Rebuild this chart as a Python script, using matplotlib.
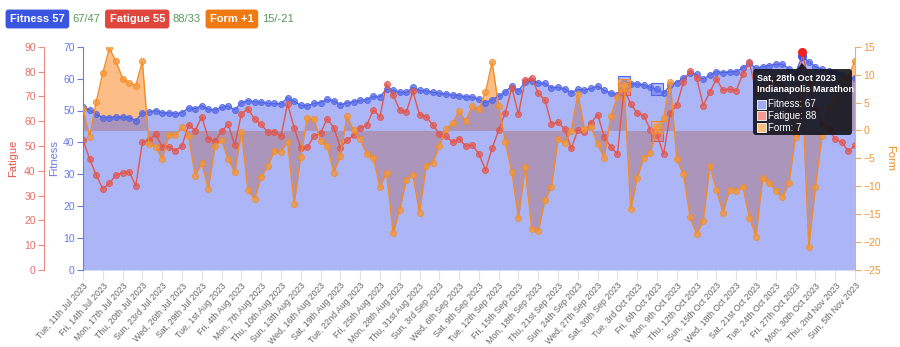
import matplotlib
matplotlib.use('Agg')
import matplotlib.pyplot as plt
import pandas as pd

plt.rcParams['font.family'] = ['Liberation Sans', 'DejaVu Sans']

dates = pd.date_range('2023-07-11', '2023-11-05', freq='D')

fitness = [51.2, 50.2, 48.9, 47.8, 47.8, 48.0, 47.9, 47.8, 46.8, 49.3,
           49.5, 50.0, 49.3, 49.3, 49.0, 49.3, 50.8, 50.6, 51.5, 50.4,
           50.2, 51.0, 51.4, 50.2, 52.5, 53.1, 52.7, 52.6, 52.2, 52.2,
           52.1, 54.0, 52.9, 51.6, 51.5, 52.2, 52.5, 53.5, 53.1, 51.8,
           52.4, 52.7, 53.2, 53.4, 54.5, 54.3, 56.7, 56.4, 55.7, 55.7,
           57.3, 56.3, 56.2, 55.7, 55.4, 55.2, 54.9, 54.7, 54.3, 54.2,
           53.6, 52.5, 53.4, 54.5, 55.9, 57.7, 56.2, 58.9, 59.4, 58.7,
           58.5, 57.2, 57.3, 56.8, 55.6, 56.6, 56.4, 56.9, 57.7, 56.3,
           55.5, 54.9, 59.0, 58.4, 58.3, 58.0, 57.3, 56.6, 55.4, 57.9,
           58.7, 60.3, 61.6, 61.3, 59.9, 61.1, 62.2, 61.9, 62.1, 62.2,
           63.4, 64.8, 63.2, 63.7, 64.1, 64.5, 64.5, 63.1, 61.9, 67.0,
           65.3, 63.7, 62.9, 62.5, 61.7, 61.1, 60.3, 60.3]

fatigue = [52.4, 44.8, 38.3, 32.7, 34.9, 38.3, 39.0, 39.6, 33.9, 51.5,
           52.4, 54.8, 49.7, 49.7, 48.1, 50.0, 58.6, 56.2, 61.7, 53.0,
           52.0, 55.9, 58.7, 50.3, 62.9, 65.0, 60.8, 58.7, 55.6, 55.8,
           54.0, 66.9, 57.4, 49.2, 49.5, 54.0, 55.1, 61.0, 57.4, 49.3,
           52.3, 54.3, 57.4, 58.3, 64.5, 61.7, 75.0, 70.4, 64.5, 63.7,
           72.0, 62.5, 61.8, 58.5, 55.0, 53.9, 51.5, 53.0, 49.9, 50.4,
           46.8, 40.3, 49.0, 56.5, 63.4, 73.4, 62.8, 76.5, 77.5, 71.2,
           68.6, 58.8, 59.5, 56.9, 49.0, 56.4, 55.7, 59.4, 62.6, 53.7,
           49.5, 46.8, 73.1, 66.9, 63.2, 62.0, 56.6, 54.4, 46.7, 63.1,
           66.5, 75.8, 80.2, 77.5, 66.3, 71.8, 76.9, 72.5, 72.9, 72.3,
           79.0, 83.8, 71.8, 73.1, 74.9, 76.5, 73.9, 64.2, 54.9, 88.0,
           75.4, 64.7, 58.7, 56.9, 52.7, 51.5, 47.8, 50.4]

form = [3.8, -1.1, 5.1, 10.3, 14.7, 12.4, 9.3, 8.5, 8.0, 12.4,
        -2.5, -2.9, -5.1, -0.9, -0.9, 0.6, -1.0, -8.1, -5.9, -10.5,
        -2.8, -1.8, -5.1, -7.5, -0.3, -10.7, -12.3, -8.3, -6.4, -3.7,
        -3.8, -2.1, -13.1, -4.7, 2.3, 2.0, -1.9, -2.7, -7.6, -4.5,
        2.6, 0.1, -1.6, -4.2, -4.9, -10.1, -7.6, -18.4, -14.2, -8.9,
        -7.9, -14.8, -6.4, -5.8, -2.8, 0.3, 1.3, 3.4, 1.7, 4.4,
        3.8, 6.8, 12.2, 4.4, -2.0, -7.5, -15.7, -6.6, -17.6, -18.1,
        -12.5, -10.1, -1.6, -2.2, -0.1, 6.6, 0.2, 0.7, -2.5, -4.9,
        2.6, 6.0, 8.1, -14.1, -8.5, -4.9, -4.0, 0.7, 2.2, 8.7,
        -5.2, -7.8, -15.5, -18.6, -16.2, -6.4, -10.7, -14.7, -10.6, -10.8,
        -10.1, -15.6, -19.0, -8.6, -9.4, -10.8, -12.0, -9.4, -1.1, 7.0,
        -20.9, -10.1, -1.0, 4.2, 5.6, 9.0, 9.6, 12.5]

race_days = pd.to_datetime(['2023-10-01', '2023-10-06'])
tip_day = pd.Timestamp('2023-10-28')
tip_title = 'Sat, 28th Oct 2023'
tip_event = 'Indianapolis Marathon'

BLUE = '#5166e6'
RED = '#e3564c'
ORANGE = '#f28c28'


def ordinal(d):
    if d in (11, 12, 13):
        return f'{d}th'
    return f'{d}' + {1: 'st', 2: 'nd', 3: 'rd'}.get(d % 10, 'th')


tick_dates = dates[::3]
tick_labels = [f"{d.strftime('%a')}, {ordinal(d.day)} {d.strftime('%b %Y')}" for d in tick_dates]

fig = plt.figure(figsize=(9, 3.47), dpi=100)
pos = [83 / 900, 1 - 270 / 347, 772 / 900, (270 - 46.7) / 347]

# form fill sits at the bottom so the fitness fill tints it
ax_ff = fig.add_axes(pos)
ax_ff.fill_between(dates, 0, form, color='#fd9a45', alpha=0.65, lw=0)
ax_ff.set_ylim(-25, 15)
ax_ff.set_xlim(dates[0], dates[-1])
for s in ax_ff.spines.values():
    s.set_visible(False)
ax_ff.set_yticks([])
ax_ff.set_xticks(tick_dates)
ax_ff.set_xticklabels(tick_labels, rotation=48, ha='right', rotation_mode='anchor',
                      fontsize=6.3, color='#666666')
ax_ff.tick_params(axis='x', length=7, color='#e0e0e0', pad=1)

# fitness
ax_fit = fig.add_axes(pos, sharex=ax_ff)
ax_fit.patch.set_visible(False)
ax_fit.fill_between(dates, 0, fitness, color='#5a6ef0', alpha=0.5, lw=0)
ax_fit.plot(dates, fitness, color=BLUE, lw=1, marker='o', ms=4.3,
            mfc=(0.32, 0.40, 0.90, 0.7), mec=BLUE, mew=0.6)
ax_fit.set_ylim(0, 70)
ax_fit.set_yticks(range(0, 71, 10))
ax_fit.tick_params(axis='y', colors='#6a7be6', labelsize=7.5, length=4, labelcolor='#6a7be6', pad=2)
ax_fit.tick_params(axis='x', bottom=False, labelbottom=False)
ax_fit.spines['left'].set_color('#6a7be6')
for k in ('right', 'top', 'bottom'):
    ax_fit.spines[k].set_visible(False)
ax_fit.set_ylabel('Fitness', color='#6a7be6', fontsize=8, labelpad=3)

# fatigue
ax_fat = fig.add_axes(pos, sharex=ax_ff)
ax_fat.patch.set_visible(False)
ax_fat.plot(dates, fatigue, color=RED, lw=1, marker='o', ms=4.3,
            mfc=(0.89, 0.34, 0.30, 0.7), mec=RED, mew=0.6)
ax_fat.set_ylim(0, 90)
ax_fat.set_yticks(range(0, 91, 10))
ax_fat.spines['left'].set_position(('axes', -0.0505))
ax_fat.spines['left'].set_color('#ec8a84')
for k in ('right', 'top', 'bottom'):
    ax_fat.spines[k].set_visible(False)
ax_fat.tick_params(axis='y', colors='#ec8a84', labelsize=7.5, length=4, labelcolor='#e57069', pad=2)
ax_fat.tick_params(axis='x', bottom=False, labelbottom=False)
ax_fat.set_ylabel('Fatigue', color='#e3564c', fontsize=8, labelpad=4)

# form line
ax_fm = fig.add_axes(pos, sharex=ax_ff)
ax_fm.patch.set_visible(False)
ax_fm.plot(dates, form, color=ORANGE, lw=1, marker='o', ms=4.3,
           mfc=(0.96, 0.60, 0.22, 0.75), mec=ORANGE, mew=0.6)
ax_fm.set_ylim(-25, 15)
ax_fm.set_yticks(range(-25, 16, 5))
ax_fm.yaxis.tick_right()
ax_fm.yaxis.set_label_position('right')
ax_fm.spines['right'].set_color('#f5a860')
for k in ('left', 'top', 'bottom'):
    ax_fm.spines[k].set_visible(False)
ax_fm.tick_params(axis='y', colors='#f5a860', labelsize=7.5, length=4, labelcolor='#f0973a', pad=2)
ax_fm.tick_params(axis='x', bottom=False, labelbottom=False)
ax_fm.set_ylabel('Form', color=ORANGE, fontsize=8, rotation=270, labelpad=10)

# race day squares
s = pd.Series(range(len(dates)), index=dates)
for d in race_days:
    i = s[d]
    ax_fit.plot(d, fitness[i], marker='s', ms=8.5, mfc=(0.35, 0.43, 0.94, 0.45), mec=BLUE, mew=0.8)
    ax_fat.plot(d, fatigue[i], marker='s', ms=8.5, mfc=(0.93, 0.40, 0.36, 0.45), mec=RED, mew=0.8)
    ax_fm.plot(d, form[i], marker='s', ms=8.5, mfc=(0.97, 0.63, 0.28, 0.45), mec=ORANGE, mew=0.8)

# hovered point + tooltip
ti = s[tip_day]
ax_fat.plot(tip_day, fatigue[ti], marker='o', ms=5.5, color='#f02020')
ax_fit.plot(tip_day, fitness[ti], marker='o', ms=5.5, color='#3a50e8')

tip = fig.add_axes([753 / 900, 1 - 135 / 347, 99 / 900, 66 / 347])
tip.set_xlim(0, 99)
tip.set_ylim(66, 0)
tip.axis('off')
tip.add_patch(matplotlib.patches.FancyBboxPatch((0, 0), 99, 66, boxstyle='round,pad=0,rounding_size=3',
                                                 fc='#14141c', ec='none', alpha=0.9))
tip.text(4, 9, tip_title, color='white', fontsize=6.6, fontweight='bold', va='center')
tip.text(4, 21, tip_event, color='white', fontsize=6.6, fontweight='bold', va='center')
rows = [('Fitness: %d' % round(fitness[ti]), '#9fabf5'),
        ('Fatigue: %d' % round(fatigue[ti]), '#f29a94'),
        ('Form: %d' % round(form[ti]), '#fbbf80')]
for k, (txt, c) in enumerate(rows):
    y = 35 + k * 12
    tip.add_patch(matplotlib.patches.Rectangle((4, y - 4.5), 9, 9, fc=c, ec='white', lw=0.6))
    tip.text(15, y, txt, color='white', fontsize=7, va='center')
fig.patches.append(matplotlib.patches.Polygon([[797 / 900, 1 - 69 / 347], [807 / 900, 1 - 69 / 347],
                                                [802 / 900, 1 - 63 / 347]],
                                               closed=True, transform=fig.transFigure,
                                               fc='#14141c', ec='none', alpha=0.9))

# header badges
header = [('Fitness 57', '#3a55e0', '67/47'),
          ('Fatigue 55', '#e0463c', '88/33'),
          ('Form +1', '#f07a12', '15/-21')]
x = 10
for name, c, rng in header:
    t = fig.text(x / 900, 1 - 19 / 347, name, color='white', fontsize=8, fontweight='bold',
                 va='center', ha='left',
                 bbox=dict(boxstyle='round,pad=0.4,rounding_size=0.25', fc=c, ec='none'))
    fig.canvas.draw()
    bb = t.get_window_extent(renderer=fig.canvas.get_renderer())
    x = bb.x1 + 8
    t2 = fig.text(x / 900, 1 - 19 / 347, rng, color='#5b995b', fontsize=8, va='center', ha='left')
    bb2 = t2.get_window_extent(renderer=fig.canvas.get_renderer())
    x = bb2.x1 + 9

fig.savefig('out.png', dpi=100)
